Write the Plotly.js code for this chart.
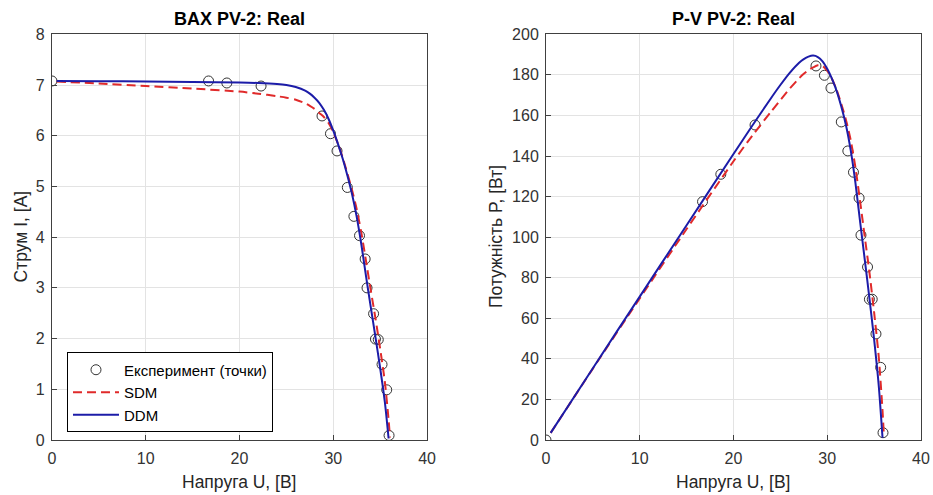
<!DOCTYPE html>
<html>
<head>
<meta charset="utf-8">
<script src="https://cdn.plot.ly/plotly-3.0.1.min.js"></script>
<style>html,body{margin:0;padding:0;background:#fff;}#chart{width:933px;height:495px;}</style>
</head>
<body>
<div id="chart"></div>
<script>
// Experimental points
var expU = [0, 16.7, 18.65, 22.3, 28.8, 29.7, 30.4, 31.5, 32.2, 32.8, 33.4, 33.6, 34.3, 34.5, 34.8, 35.2, 35.7, 35.95];
var expI = [7.08, 7.08, 7.04, 6.98, 6.39, 6.04, 5.70, 4.98, 4.41, 4.03, 3.57, 3.00, 2.49, 1.99, 1.98, 1.49, 0.99, 0.09];
var expP = [0, 117.5, 131, 155.3, 184.4, 179.8, 173.5, 156.8, 142.5, 132, 119.3, 101, 85.3, 69.4, 69.4, 52.3, 35.8, 3.6];

// SDM model curve
var sdmU = [0.5, 5, 10, 15, 20, 22, 24, 25, 26, 27, 27.5, 28, 28.5, 29, 29.5, 30, 30.5, 31, 31.5, 32, 32.5, 33, 33.5, 34, 34.5, 35, 35.5, 35.9, 36.05];
var sdmI = [7.07, 7.03, 6.98, 6.93, 6.87, 6.83, 6.78, 6.75, 6.71, 6.64, 6.59, 6.53, 6.45, 6.37, 6.25, 6.07, 5.84, 5.57, 5.26, 4.93, 4.55, 4.08, 3.52, 2.95, 2.40, 1.80, 1.15, 0.40, 0.05];
var sdmP = [3.5, 35.2, 69.8, 104.0, 137.4, 150.0, 161.8, 167.6, 173.2, 178.3, 180.5, 182.4, 183.7, 184.7, 184.4, 182.1, 178.1, 172.7, 165.7, 157.8, 147.9, 134.6, 117.9, 100.3, 82.8, 63.0, 40.8, 14.4, 1.8];

// DDM model curve
var ddmU = [0.5, 5, 10, 15, 20, 22, 24, 25, 26, 27, 27.5, 28, 28.5, 29, 29.5, 30, 30.5, 31, 31.5, 32, 32.5, 33, 33.5, 34, 34.5, 35, 35.5, 35.9];
var ddmI = [7.08, 7.075, 7.07, 7.06, 7.05, 7.04, 7.02, 7.0, 6.96, 6.89, 6.83, 6.75, 6.65, 6.51, 6.33, 6.1, 5.84, 5.55, 5.22, 4.85, 4.4, 3.85, 3.22, 2.62, 2.03, 1.42, 0.75, 0.03];
var ddmP = [3.5, 35.4, 70.7, 105.9, 141.0, 154.9, 168.5, 175.0, 181.0, 186.0, 187.8, 189.0, 189.5, 188.8, 186.7, 183.0, 178.1, 172.1, 164.4, 155.2, 143.0, 127.1, 107.9, 89.1, 70.0, 49.7, 26.6, 1.1];

var xTicks = [0, 10, 20, 30, 40];
var iTicks = [0, 1, 2, 3, 4, 5, 6, 7, 8];
var pTicks = [0, 20, 40, 60, 80, 100, 120, 140, 160, 180, 200];

var FONT = 'Liberation Sans, Arial, Helvetica, sans-serif';
var RED = '#e02a2a', BLUE = '#1c1ca8', MK = '#333333';

var traces = [
  {x: expU, y: expI, xaxis: 'x', yaxis: 'y', mode: 'markers', name: 'Експеримент (точки)',
   marker: {symbol: 'circle-open', size: 10, color: MK, line: {width: 1, color: MK}}},
  {x: sdmU, y: sdmI, xaxis: 'x', yaxis: 'y', mode: 'lines', name: 'SDM',
   line: {color: RED, width: 2, dash: '9px,5px', shape: 'spline', smoothing: 0.7}},
  {x: ddmU, y: ddmI, xaxis: 'x', yaxis: 'y', mode: 'lines', name: 'DDM',
   line: {color: BLUE, width: 2, shape: 'spline', smoothing: 0.7}},
  {x: expU, y: expP, xaxis: 'x2', yaxis: 'y2', mode: 'markers', showlegend: false,
   marker: {symbol: 'circle-open', size: 10, color: MK, line: {width: 1, color: MK}}},
  {x: sdmU, y: sdmP, xaxis: 'x2', yaxis: 'y2', mode: 'lines', showlegend: false,
   line: {color: RED, width: 2, dash: '9px,5px', shape: 'spline', smoothing: 0.7}},
  {x: ddmU, y: ddmP, xaxis: 'x2', yaxis: 'y2', mode: 'lines', showlegend: false,
   line: {color: BLUE, width: 2, shape: 'spline', smoothing: 0.7}}
];

function ax(extra) {
  var base = {
    showline: true, mirror: true, linecolor: '#404040', linewidth: 1,
    showgrid: true, gridcolor: '#e3e3e3', gridwidth: 1, zeroline: false,
    ticks: 'inside', ticklen: 5, tickcolor: '#404040',
    tickfont: {family: FONT, size: 16, color: '#333333'},
    automargin: false, fixedrange: true
  };
  for (var k in extra) base[k] = extra[k];
  return base;
}

var Y0 = 0.1111, Y1 = 0.9307;
var layout = {
  width: 933, height: 495,
  margin: {l: 0, r: 0, t: 0, b: 0},
  paper_bgcolor: '#ffffff', plot_bgcolor: '#ffffff',
  font: {family: FONT, color: '#262626'},
  xaxis: ax({domain: [0.0557, 0.4577], range: [0, 40], tickvals: xTicks, anchor: 'y', ticklabelstandoff: 4}),
  yaxis: ax({domain: [Y0, Y1], range: [0, 8], tickvals: iTicks, anchor: 'x', ticklabelstandoff: 3}),
  xaxis2: ax({domain: [0.5852, 0.9871], range: [0, 40], tickvals: xTicks, anchor: 'y2', ticklabelstandoff: 4}),
  yaxis2: ax({domain: [Y0, Y1], range: [0, 200], tickvals: pTicks, anchor: 'x2', ticklabelstandoff: 3}),
  showlegend: true,
  legend: {x: 0.0718, y: 0.2071, xanchor: 'left', yanchor: 'middle', bgcolor: '#ffffff',
    bordercolor: '#000000', borderwidth: 1, font: {family: FONT, size: 15, color: '#000000'},
    tracegroupgap: 0, itemwidth: 46},
  annotations: [
    {text: '<b>BAX PV-2: Real</b>', xref: 'paper', yref: 'paper', x: 0.2567, y: 0.9616,
     xanchor: 'center', yanchor: 'middle', showarrow: false, font: {family: FONT, size: 18, color: '#000000'}},
    {text: '<b>P-V PV-2: Real</b>', xref: 'paper', yref: 'paper', x: 0.7862, y: 0.9616,
     xanchor: 'center', yanchor: 'middle', showarrow: false, font: {family: FONT, size: 18, color: '#000000'}},
    {text: 'Напруга U, [В]', xref: 'paper', yref: 'paper', x: 0.2567, y: 0.0269,
     xanchor: 'center', yanchor: 'middle', showarrow: false, font: {family: FONT, size: 17.5, color: '#262626'}},
    {text: 'Напруга U, [В]', xref: 'paper', yref: 'paper', x: 0.7862, y: 0.0269,
     xanchor: 'center', yanchor: 'middle', showarrow: false, font: {family: FONT, size: 17.5, color: '#262626'}},
    {text: 'Струм I, [А]', xref: 'paper', yref: 'paper', x: 0.0222, y: 0.5218, textangle: -90,
     xanchor: 'center', yanchor: 'middle', showarrow: false, font: {family: FONT, size: 17.5, color: '#262626'}},
    {text: 'Потужність P, [Вт]', xref: 'paper', yref: 'paper', x: 0.5309, y: 0.5218, textangle: -90,
     xanchor: 'center', yanchor: 'middle', showarrow: false, font: {family: FONT, size: 17.5, color: '#262626'}}
  ]
};

Plotly.newPlot('chart', traces, layout, {displayModeBar: false, staticPlot: true});
</script>
</body>
</html>
